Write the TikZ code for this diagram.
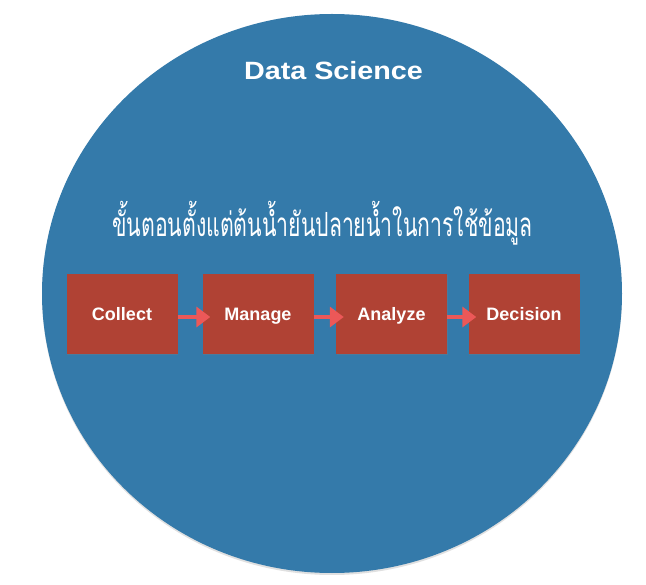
\documentclass[tikz,border=0pt]{standalone}
\usepackage{fontspec}
\setmainfont{Liberation Sans}
\newfontfamily\thaifont[Script=Thai]{Loma}
\usetikzlibrary{arrows.meta,shadows,shapes.geometric}
\definecolor{dsblue}{RGB}{52,122,170}
\definecolor{boxred}{RGB}{176,66,52}
\definecolor{arrred}{RGB}{236,88,88}
\begin{document}
\begin{tikzpicture}[x=1pt,y=-1pt,
  stepbox/.style={fill=boxred, minimum width=111pt, minimum height=80pt, inner sep=0pt,
    font=\fontsize{18}{20}\selectfont\bfseries, text=white, text height=13pt, text depth=0pt,
    drop shadow={shadow xshift=0.8pt, shadow yshift=-1.5pt, opacity=0.3}},
  flow/.style={-{Triangle[length=14pt,width=20pt]}, line width=4pt, draw=arrred, shorten >=-8pt},
  bigcircle/.style={fill=dsblue}
]
\useasboundingbox (0,0) rectangle (646,585);
\fill[black, opacity=0.12] (332,295) ellipse [x radius=290pt, y radius=280pt];
\node[bigcircle, ellipse, minimum width=580pt, minimum height=559pt, inner sep=0pt] (circ) at (332,293.5) {};
\node[text=white, anchor=base, inner sep=0pt, font=\fontsize{25}{30}\selectfont\bfseries] (title) at (333.5,80) {\scalebox{1.15}[1]{Data Science}};
\node[text=white, anchor=base, inner sep=0pt, font=\thaifont\fontsize{26}{30}\selectfont] (sub) at (322.5,237) {\scalebox{0.816}[1.28]{ขั้นตอนตั้งแต่ต้นน้ำยันปลายน้ำในการใช้ข้อมูล}};
\node[stepbox] (c1) at (122,314) {Collect};
\node[stepbox] (c2) at (258,314) {Manage};
\node[stepbox] (c3) at (391.5,314) {Analyze};
\node[stepbox] (c4) at (524,314) {Decision};
\draw[flow] ([yshift=-3pt]c1.east) -- ([yshift=-3pt]c2.west);
\draw[flow] ([yshift=-3pt]c2.east) -- ([yshift=-3pt]c3.west);
\draw[flow] ([yshift=-3pt]c3.east) -- ([yshift=-3pt]c4.west);
\end{tikzpicture}
\end{document}
